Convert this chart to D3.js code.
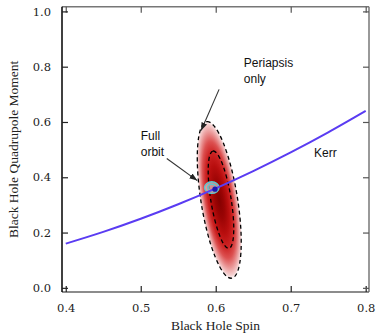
<!DOCTYPE html>
<html>
<head>
<meta charset="utf-8">
<script src="https://cdn.jsdelivr.net/npm/d3@7"></script>
<style>
  html, body { margin: 0; padding: 0; background: #fff; }
  svg { display: block; }
</style>
</head>
<body>
<div id="chart"></div>
<script>
// ---- data ----
const xTicks = [0.4, 0.5, 0.6, 0.7, 0.8];
const yTicks = [0.0, 0.2, 0.4, 0.6, 0.8, 1.0];
const xDomain = [0.395, 0.8044];
const yDomain = [-0.015, 1.017];

// Kerr relation
const kerrSpin = [0.40, 0.45, 0.50, 0.55, 0.60, 0.65, 0.70, 0.75, 0.80];
const kerrQuad = [0.16, 0.2025, 0.25, 0.3025, 0.36, 0.4225, 0.49, 0.5625, 0.64];

// "Periapsis only" posterior contours
const contourNames = ["outer", "inner"];
const contourCenterSpin = [0.6047, 0.6070];
const contourCenterQuad = [0.318, 0.319];
const contourTopSpin = [0.5880, 0.5964];
const contourTopQuad = [0.601, 0.495];
const contourMinorSpin = [0.0247, 0.0137];

// "Full orbit" posterior
const fullSpin = 0.5947;
const fullQuad = 0.3627;
const fullRingRx = [0.0097, 0.0054];
const fullRingRy = [0.0210, 0.0118];
const fullPeakSpin = 0.5990;
const fullPeakQuad = 0.3570;

// annotations
const labels = [
  { lines: ["Periapsis", "only"], spin: 0.6375, quad: 0.800 },
  { lines: ["Full", "orbit"], spin: 0.5, quad: 0.535 },
  { lines: ["Kerr"], spin: 0.7310, quad: 0.474 }
];
const arrows = [
  { fromSpin: 0.6045, fromQuad: 0.718, toSpin: 0.5805, toQuad: 0.569 },
  { fromSpin: 0.5347, fromQuad: 0.468, toSpin: 0.5754, toQuad: 0.388 }
];

// ---- chart ----
const W = 377, H = 335;
const L = 62, R = 369, T = 6.7, B = 292;

const svg = d3.select("#chart").append("svg").attr("width", W).attr("height", H);
const x = d3.scaleLinear().domain(xDomain).range([L, R]);
const y = d3.scaleLinear().domain(yDomain).range([B, T]);

const defs = svg.append("defs");
const grad = defs.append("radialGradient").attr("id", "blob");
[[0, "#840000", 1], [0.22, "#9a0404", 1], [0.42, "#b80e0e", 1], [0.58, "#cc2222", 1],
 [0.72, "#dc5050", 1], [0.84, "#ea9898", 1], [0.94, "#f6d4d4", 1], [1.0, "#ffffff", 0]]
  .forEach(([o, c, op]) => grad.append("stop").attr("offset", o).attr("stop-color", c).attr("stop-opacity", op));
defs.append("clipPath").attr("id", "plotclip").append("rect")
  .attr("x", L).attr("y", T).attr("width", R - L).attr("height", B - T);

const plot = svg.append("g").attr("clip-path", "url(#plotclip)");

function ellGeom(i) {
  const cx = x(contourCenterSpin[i]), cy = y(contourCenterQuad[i]);
  const tx = x(contourTopSpin[i]), ty = y(contourTopQuad[i]);
  const dx = tx - cx, dy = ty - cy;
  const major = Math.hypot(dx, dy);
  const ang = Math.atan2(dy, dx) * 180 / Math.PI;
  const minor = (x(contourCenterSpin[i] + contourMinorSpin[i]) - cx) * Math.cos(Math.atan2(-dx, -dy));
  return { cx, cy, major, minor: Math.abs(minor), ang };
}

// density blob
const g0 = ellGeom(0);
plot.append("ellipse")
  .attr("transform", `translate(${g0.cx},${g0.cy}) rotate(${g0.ang})`)
  .attr("rx", g0.major * 1.03).attr("ry", g0.minor * 1.06)
  .attr("fill", "url(#blob)");

// dashed contours
contourNames.forEach((n, i) => {
  const g = ellGeom(i);
  plot.append("ellipse")
    .attr("transform", `translate(${g.cx},${g.cy}) rotate(${g.ang})`)
    .attr("rx", g.major).attr("ry", g.minor)
    .attr("fill", "none").attr("stroke", "#000").attr("stroke-width", 1.3)
    .attr("stroke-dasharray", "4,3");
});

// Full orbit rings
fullRingRx.forEach((rx, i) => {
  plot.append("ellipse").attr("cx", x(fullSpin)).attr("cy", y(fullQuad))
    .attr("rx", x(fullSpin + rx) - x(fullSpin)).attr("ry", y(fullQuad) - y(fullQuad + fullRingRy[i]))
    .attr("fill", i === 0 ? "#f4fbfb" : "none")
    .attr("fill-opacity", i === 0 ? 0.55 : 0)
    .attr("stroke", "#5cc6cf").attr("stroke-width", 1.4);
});

// Kerr curve
const line = d3.line().x(d => x(d[0])).y(d => y(d[1])).curve(d3.curveMonotoneX);
plot.append("path").datum(kerrSpin.map((s, i) => [s, kerrQuad[i]]))
  .attr("d", line).attr("fill", "none").attr("stroke", "#5a3cf2").attr("stroke-width", 2);

plot.append("circle").attr("cx", x(fullPeakSpin)).attr("cy", y(fullPeakQuad))
  .attr("r", 2.6).attr("fill", "#1c18b0");

// arrows
defs.append("marker").attr("id", "ah").attr("viewBox", "0 0 10 10")
  .attr("refX", 10).attr("refY", 5).attr("markerWidth", 8).attr("markerHeight", 6)
  .attr("markerUnits", "userSpaceOnUse").attr("orient", "auto")
  .attr("preserveAspectRatio", "none")
  .append("path").attr("d", "M0,0 L10,5 L0,10 Z").attr("fill", "#222");
arrows.forEach(a => {
  svg.append("line")
    .attr("x1", x(a.fromSpin)).attr("y1", y(a.fromQuad))
    .attr("x2", x(a.toSpin)).attr("y2", y(a.toQuad))
    .attr("stroke", "#333").attr("stroke-width", 1.1).attr("marker-end", "url(#ah)");
});

// labels
labels.forEach(l => {
  const t = svg.append("text").attr("x", x(l.spin)).attr("y", y(l.quad))
    .attr("font-family", "'Liberation Sans', Arial, sans-serif").attr("font-size", 12).attr("fill", "#111");
  l.lines.forEach((s, i) => t.append("tspan").attr("x", x(l.spin)).attr("dy", i === 0 ? 0 : 16).text(s));
});

// frame
svg.append("line").attr("x1", L).attr("x2", R).attr("y1", T).attr("y2", T).attr("stroke", "#777").attr("stroke-width", 1.5);
svg.append("line").attr("x1", R).attr("x2", R).attr("y1", T).attr("y2", B).attr("stroke", "#777").attr("stroke-width", 1.5);
svg.append("line").attr("x1", L).attr("x2", R).attr("y1", B).attr("y2", B).attr("stroke", "#666").attr("stroke-width", 1.5);
svg.append("line").attr("x1", L).attr("x2", L).attr("y1", T).attr("y2", B).attr("stroke", "#000").attr("stroke-width", 1.5);

const serif = "'Liberation Serif', 'Times New Roman', serif";
const numFont = "'DejaVu Serif', serif";
const tickLen = 6;
// bottom axis (inward ticks)
const xAxis = d3.axisBottom(x).tickValues(xTicks).tickSize(-tickLen).tickPadding(tickLen + 6).tickFormat(d3.format(".1f"));
const gx = svg.append("g").attr("transform", `translate(0,${B})`).call(xAxis);
gx.select(".domain").remove();
gx.selectAll(".tick line").attr("stroke", "#222").attr("stroke-width", 1.2);
gx.selectAll("text").attr("font-family", numFont).attr("font-size", 11.5).attr("fill", "#222");
// top ticks
const gt = svg.append("g").attr("transform", `translate(0,${T})`).call(d3.axisTop(x).tickValues(xTicks).tickSize(-tickLen).tickFormat(""));
gt.select(".domain").remove();
gt.selectAll(".tick line").attr("stroke", "#555").attr("stroke-width", 1.2);
// left axis
const yAxis = d3.axisLeft(y).tickValues(yTicks).tickSize(-tickLen).tickPadding(tickLen + 5).tickFormat(d3.format(".1f"));
const gy = svg.append("g").attr("transform", `translate(${L},0)`).call(yAxis);
gy.select(".domain").remove();
gy.selectAll(".tick line").attr("stroke", "#222").attr("stroke-width", 1.2);
gy.selectAll("text").attr("font-family", numFont).attr("font-size", 11.5).attr("fill", "#222");
// right ticks
const gr = svg.append("g").attr("transform", `translate(${R},0)`).call(d3.axisRight(y).tickValues(yTicks).tickSize(-tickLen).tickFormat(""));
gr.select(".domain").remove();
gr.selectAll(".tick line").attr("stroke", "#555").attr("stroke-width", 1.2);

// axis titles
svg.append("text").attr("x", (L + R) / 2).attr("y", 330).attr("text-anchor", "middle")
  .attr("font-family", serif).attr("font-size", 13.5).attr("fill", "#222").text("Black Hole Spin");
svg.append("text").attr("transform", `translate(18,${(T + B) / 2}) rotate(-90)`).attr("text-anchor", "middle")
  .attr("font-family", serif).attr("font-size", 13.5).attr("fill", "#222").text("Black Hole Quadrupole Moment");
</script>
</body>
</html>
